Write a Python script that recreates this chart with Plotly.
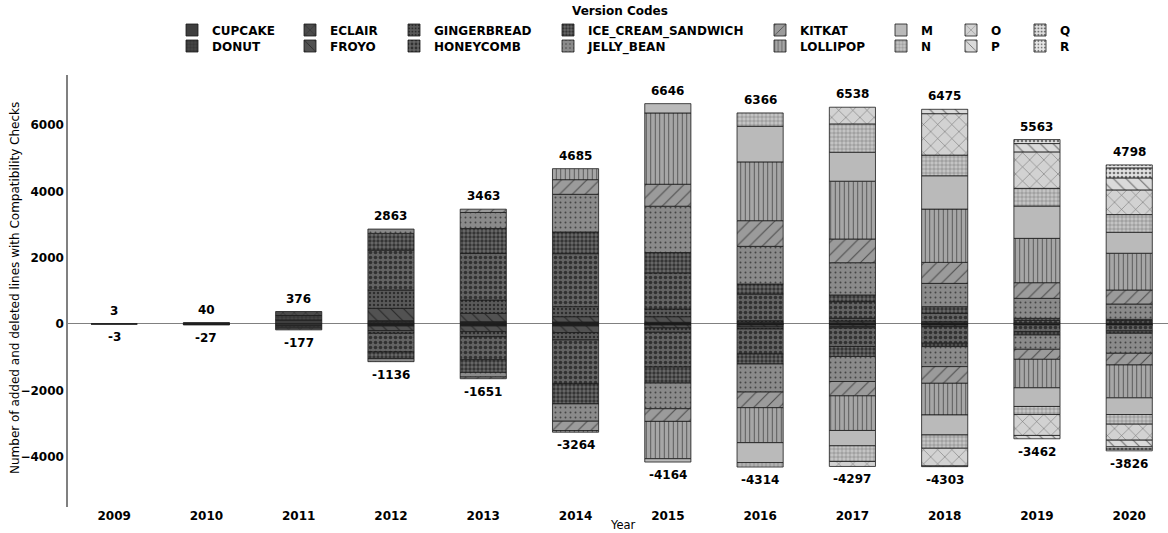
import plotly.graph_objects as go

years = ["2009", "2010", "2011", "2012", "2013", "2014", "2015", "2016", "2017", "2018", "2019", "2020"]
versions = ["CUPCAKE", "DONUT", "ECLAIR", "FROYO", "GINGERBREAD", "HONEYCOMB", "ICE_CREAM_SANDWICH",
            "JELLY_BEAN", "KITKAT", "LOLLIPOP", "M", "N", "O", "P", "Q", "R"]

# added lines (positive) per version, 2009..2020
CUPCAKE_ADDED = [3, 25, 120, 30, 20, 20, 15, 5, 10, 10, 0, 0]
DONUT_ADDED = [0, 15, 136, 40, 30, 20, 20, 10, 10, 10, 0, 0]
ECLAIR_ADDED = [0, 0, 120, 30, 20, 20, 15, 5, 10, 10, 0, 0]
FROYO_ADDED = [0, 0, 0, 372, 251, 161, 171, 40, 61, 40, 0, 0]
GINGERBREAD_ADDED = [0, 0, 0, 553, 402, 302, 231, 40, 80, 0, 30, 20]
HONEYCOMB_ADDED = [0, 0, 0, 1205, 1404, 1599, 1090, 804, 503, 251, 81, 81]
ICS_ADDED = [0, 0, 0, 503, 754, 653, 613, 302, 201, 201, 60, 40]
JELLY_BEAN_ADDED = [0, 0, 0, 130, 482, 1136, 1397, 1136, 974, 703, 603, 462]
KITKAT_ADDED = [0, 0, 0, 0, 100, 442, 663, 774, 714, 633, 472, 422]
LOLLIPOP_ADDED = [0, 0, 0, 0, 0, 332, 2150, 1773, 1744, 1608, 1337, 1109]
M_ADDED = [0, 0, 0, 0, 0, 0, 281, 1075, 874, 1005, 975, 633]
N_ADDED = [0, 0, 0, 0, 0, 0, 0, 402, 854, 623, 533, 533]
O_ADDED = [0, 0, 0, 0, 0, 0, 0, 0, 503, 1250, 1100, 744]
P_ADDED = [0, 0, 0, 0, 0, 0, 0, 0, 0, 131, 251, 362]
Q_ADDED = [0, 0, 0, 0, 0, 0, 0, 0, 0, 0, 121, 302]
R_ADDED = [0, 0, 0, 0, 0, 0, 0, 0, 0, 0, 0, 90]

# deleted lines (negative) per version, 2009..2020
CUPCAKE_DELETED = [-3, -17, -60, -20, -20, -20, -10, -10, -10, -10, -10, -10]
DONUT_DELETED = [0, -10, -57, -20, -20, -20, -10, -10, -10, -10, -10, -10]
ECLAIR_DELETED = [0, 0, -60, -20, -20, -20, -10, -10, -10, -10, -10, -10]
FROYO_DELETED = [0, 0, 0, -141, -171, -201, -90, -60, -50, -50, 0, 0]
GINGERBREAD_DELETED = [0, 0, 0, -80, -151, -221, -131, -61, -40, 0, 0, 0]
HONEYCOMB_DELETED = [0, 0, 0, -564, -696, -1325, -1049, -754, -559, -503, -201, -181]
ICS_DELETED = [0, 0, 0, -201, -382, -603, -482, -302, -302, -100, -101, -70]
JELLY_BEAN_DELETED = [0, 0, 0, -90, -141, -523, -774, -846, -754, -603, -432, -603]
KITKAT_DELETED = [0, 0, 0, 0, -50, -281, -382, -472, -432, -503, -302, -352]
LOLLIPOP_DELETED = [0, 0, 0, 0, 0, -50, -1126, -1055, -1045, -955, -859, -992]
M_DELETED = [0, 0, 0, 0, 0, 0, -100, -603, -462, -603, -563, -503]
N_DELETED = [0, 0, 0, 0, 0, 0, 0, -131, -472, -402, -241, -291]
O_DELETED = [0, 0, 0, 0, 0, 0, 0, 0, -151, -534, -633, -482]
P_DELETED = [0, 0, 0, 0, 0, 0, 0, 0, 0, -20, -100, -201]
Q_DELETED = [0, 0, 0, 0, 0, 0, 0, 0, 0, 0, 0, -70]
R_DELETED = [0, 0, 0, 0, 0, 0, 0, 0, 0, 0, 0, -51]

ADDED = [CUPCAKE_ADDED, DONUT_ADDED, ECLAIR_ADDED, FROYO_ADDED, GINGERBREAD_ADDED, HONEYCOMB_ADDED,
         ICS_ADDED, JELLY_BEAN_ADDED, KITKAT_ADDED, LOLLIPOP_ADDED, M_ADDED, N_ADDED, O_ADDED,
         P_ADDED, Q_ADDED, R_ADDED]
DELETED = [CUPCAKE_DELETED, DONUT_DELETED, ECLAIR_DELETED, FROYO_DELETED, GINGERBREAD_DELETED,
           HONEYCOMB_DELETED, ICS_DELETED, JELLY_BEAN_DELETED, KITKAT_DELETED, LOLLIPOP_DELETED,
           M_DELETED, N_DELETED, O_DELETED, P_DELETED, Q_DELETED, R_DELETED]

# styles
COLORS = ["#3f3f3f", "#454545", "#4b4b4b", "#525252", "#5a5a5a", "#636363", "#6b6b6b", "#8a8a8a",
          "#9b9b9b", "#a6a6a6", "#bababa", "#c4c4c4", "#d2d2d2", "#dadada", "#e2e2e2", "#e8e8e8"]
SHAPES = ["", "+", "x", "\\", ".", ".", ".", ".", "/", "|", "", "+", "x", "\\", ".", "."]
PSIZE = [6, 4, 8, 9, 4, 5, 4, 5, 9, 4.5, 6, 4, 10, 9, 4, 4]
PSOLID = [0.2, 0.2, 0.12, 0.12, 0.3, 0.4, 0.55, 0.12, 0.12, 0.2, 0.2, 0.18, 0.1, 0.12, 0.35, 0.25]

# legend text left edges (px) and row centres (px)
LEG_TEXT_X = [212, 330, 434, 588, 800, 921, 991, 1060]
LEG_ROW_Y = [30, 46]

W, H = 1168, 533
ML, MR, MT, MB = 68, 0, 75, 26
PW, PH = W - ML - MR, H - MT - MB

FONT = "DejaVu Sans"

fig = go.Figure()
for i, v in enumerate(versions):
    leg = "legend" if i == 0 else f"legend{i + 1}"
    pattern = dict(shape=SHAPES[i], fgcolor="#000000", bgcolor=COLORS[i],
                   size=PSIZE[i], solidity=PSOLID[i], fillmode="overlay")
    for vals, show in ((ADDED[i], True), (DELETED[i], False)):
        fig.add_trace(go.Bar(
            x=years, y=[val if val != 0 else None for val in vals],
            name=v, legendgroup=v, showlegend=show, legend=leg,
            width=0.5,
            marker=dict(color=COLORS[i], pattern=pattern,
                        line=dict(color="#1a1a1a", width=0.8)),
            hoverinfo="skip",
        ))

layout_legends = {}
for i, v in enumerate(versions):
    col, row = i // 2, i % 2
    key = "legend" if i == 0 else f"legend{i + 1}"
    layout_legends[key] = dict(
        x=(LEG_TEXT_X[col] - 40 - ML) / PW, xanchor="left",
        y=(H - MB - LEG_ROW_Y[row]) / PH, yanchor="middle",
        orientation="v", bgcolor="rgba(0,0,0,0)", borderwidth=0,
        font=dict(family=FONT, size=12, color="#000000", weight="bold"),
        itemwidth=30, itemclick=False, itemdoubleclick=False,
    )

# totals
pos_tot = [sum(a[j] for a in ADDED) for j in range(len(years))]
neg_tot = [sum(d[j] for d in DELETED) for j in range(len(years))]
annotations = []
for j, yr in enumerate(years):
    annotations.append(dict(x=j, y=pos_tot[j], text=str(pos_tot[j]), showarrow=False,
                            yshift=13, yanchor="middle",
                            font=dict(family=FONT, size=12, color="#000", weight="bold")))
    annotations.append(dict(x=j, y=neg_tot[j], text=str(neg_tot[j]), showarrow=False,
                            yshift=-13, yanchor="middle",
                            font=dict(family=FONT, size=12, color="#000", weight="bold")))
annotations.append(dict(xref="paper", yref="paper", x=(620 - ML) / PW, y=(H - MB - 11) / PH,
                        text="Version Codes", showarrow=False, xanchor="center", yanchor="middle",
                        font=dict(family=FONT, size=12, color="#000", weight="bold")))
# axis titles
annotations.append(dict(xref="paper", yref="paper", x=(623 - ML) / PW, y=(H - MB - 525) / PH,
                        text="Year", showarrow=False, xanchor="center", yanchor="middle",
                        font=dict(family=FONT, size=11.5, color="#000")))
annotations.append(dict(xref="paper", yref="paper", x=(15 - ML) / PW, y=(H - MB - 288) / PH,
                        text="Number of added and deleted lines with Compatibility Checks",
                        textangle=-90, showarrow=False, xanchor="center", yanchor="middle",
                        font=dict(family=FONT, size=12, color="#000")))

fig.update_layout(
    width=W, height=H, margin=dict(l=ML, r=MR, t=MT, b=MB, autoexpand=False),
    barmode="relative", bargap=0.5,
    plot_bgcolor="white", paper_bgcolor="white",
    font=dict(family=FONT, size=12, color="#000"),
    annotations=annotations,
    **layout_legends,
)
fig.update_xaxes(
    type="category", range=[-0.5, 11.42], showline=False, showgrid=False, zeroline=False,
    ticks="", tickfont=dict(family=FONT, size=12, color="#000", weight="bold"),
    automargin=False,
)
fig.update_yaxes(
    range=[-5520, 7510], tickvals=[-4000, -2000, 0, 2000, 4000, 6000],
    showline=True, linecolor="#808080", linewidth=1.5, showgrid=False,
    zeroline=True, zerolinecolor="#808080", zerolinewidth=1.2,
    ticks="", tickfont=dict(family=FONT, size=12, color="#000", weight="bold"),
    automargin=False,
)

fig.write_html("out.html", config={"displayModeBar": False},
               post_script="document.body.style.margin='0';")
